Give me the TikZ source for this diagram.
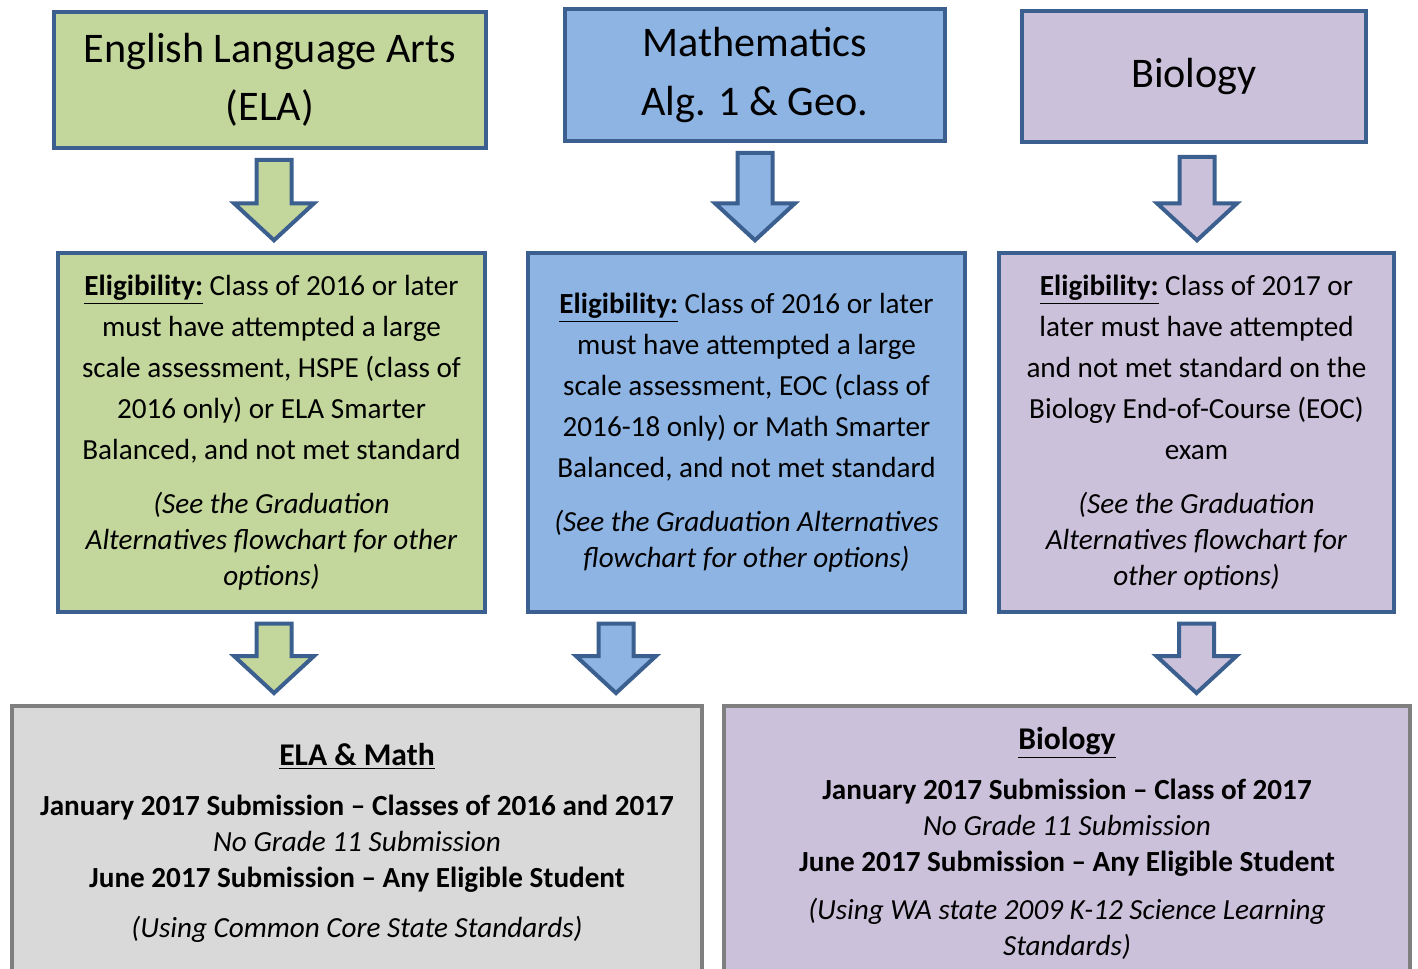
\documentclass[tikz,border=0pt]{standalone}
\usepackage{fontspec}
\setmainfont{Carlito}
\usepackage{xcolor}
\usetikzlibrary{calc}

\definecolor{elagreen}{HTML}{C3D69B}
\definecolor{mathblue}{HTML}{8EB4E3}
\definecolor{biopurple}{HTML}{CCC1DA}
\definecolor{edgeblue}{HTML}{3B5F8F}
\definecolor{subgray}{HTML}{D9D9D9}
\definecolor{edgegray}{HTML}{7F7F7F}

\tikzset{
  subject/.style={draw=edgeblue, line width=0.08cm, inner sep=0pt, align=center,
    font=\fontsize{24}{33}\selectfont},
  elig/.style={draw=edgeblue, line width=0.07cm, inner sep=0pt, align=center,
    font=\fontsize{16.6}{23.3}\selectfont},
  submit/.style={draw=edgegray, line width=0.08cm, inner sep=0pt, align=center,
    font=\fontsize{16.6}{20.5}\selectfont},
  downarrow/.style={draw=edgeblue, line width=0.08cm, line join=miter,
    to path={($(\tikztostart)+(-17.5,10)$)
      -- ($(\tikztostart |- \tikztotarget)+(-17.5,-48)$)
      -- ($(\tikztostart |- \tikztotarget)+(-40,-48)$)
      -- ($(\tikztostart |- \tikztotarget)+(0,-11)$)
      -- ($(\tikztostart |- \tikztotarget)+(40,-48)$)
      -- ($(\tikztostart |- \tikztotarget)+(17.5,-48)$)
      -- ($(\tikztostart)+(17.5,10)$) -- cycle}}
}

\begin{document}
\begin{tikzpicture}[x=0.02cm, y=-0.02cm]

\useasboundingbox (0,0) rectangle (1418,969);
\clip (0,0) rectangle (1418,969);

% subjects
\node[subject, fill=elagreen, minimum width=8.64cm, minimum height=2.72cm] (elaTitle) at (270,80)
  {English Language Arts\\(ELA)};
\node[subject, fill=mathblue, minimum width=7.6cm, minimum height=2.64cm] (mathTitle) at (755,75)
  {Mathematics\\[1pt]Alg. 1 \& Geo.};
\node[subject, fill=biopurple, minimum width=6.88cm, minimum height=2.62cm] (bioTitle) at (1194,76.5)
  {Biology};

% eligibility
\node[elig, fill=elagreen, minimum width=8.54cm, minimum height=7.18cm] (elaElig) at (271.5,432.5)
  {\textbf{\underline{Eligibility:}} Class of 2016 or later\\
   must have attempted a large\\
   scale assessment, HSPE (class of\\
   2016 only) or ELA Smarter\\
   Balanced, and not met standard\\[7.4pt]
   \textit{(See the Graduation}\\[-2.8pt]
   \textit{Alternatives flowchart for other}\\[-2.8pt]
   \textit{options)}};
\node[elig, fill=mathblue, minimum width=8.74cm, minimum height=7.18cm] (mathElig) at (746.5,432.5)
  {\textbf{\underline{Eligibility:}} Class of 2016 or later\\
   must have attempted a large\\
   scale assessment, EOC (class of\\
   2016-18 only) or Math Smarter\\
   Balanced, and not met standard\\[7.4pt]
   \textit{(See the Graduation Alternatives}\\[-2.8pt]
   \textit{flowchart for other options)}};
\node[elig, fill=biopurple, minimum width=7.9cm, minimum height=7.18cm] (bioElig) at (1196.5,432.5)
  {\textbf{\underline{Eligibility:}} Class of 2017 or\\
   later must have attempted\\
   and not met standard on the\\
   Biology End-of-Course (EOC)\\
   exam\\[7.4pt]
   \textit{(See the Graduation}\\[-2.8pt]
   \textit{Alternatives flowchart for}\\[-2.8pt]
   \textit{other options)}};

% submissions
\node[submit, fill=subgray, minimum width=13.8cm, minimum height=5.48cm] (elaMathSub) at (357,843)
  {{\fontsize{18}{20}\selectfont\textbf{\underline{ELA \& Math}}}\\[7.9pt]
   \textbf{January 2017 Submission – Classes of 2016 and 2017}\\
   \textit{No Grade 11 Submission}\\
   \textbf{June 2017 Submission – Any Eligible Student}\\[7.9pt]
   \textit{(Using Common Core State Standards)}};
\node[submit, fill=biopurple, minimum width=13.72cm, minimum height=5.48cm] (bioSub) at (1067,843)
  {{\fontsize{18}{20}\selectfont\textbf{\underline{Biology}}}\\[7.9pt]
   \textbf{January 2017 Submission – Class of 2017}\\
   \textit{No Grade 11 Submission}\\
   \textbf{June 2017 Submission – Any Eligible Student}\\[6.8pt]
   \textit{(Using WA state 2009 K-12 Science Learning}\\
   \textit{Standards)}};

\coordinate (elaIn) at ($(elaTitle.south)+(4,0)$);
\coordinate (bioIn) at ($(bioTitle.south)+(3,3)$);
\coordinate (elaOut) at ($(elaElig.south)+(2.5,0)$);
\coordinate (mathOut) at ($(mathElig.south)+(-130.5,0)$);

\draw[downarrow, fill=elagreen] (elaIn) to (elaElig.north);
\draw[downarrow, fill=mathblue] (mathTitle.south) to (mathElig.north);
\draw[downarrow, fill=biopurple] (bioIn) to (bioElig.north);

\draw[downarrow, fill=elagreen] (elaOut) to (elaMathSub.north);
\draw[downarrow, fill=mathblue] (mathOut) to (elaMathSub.north);
\draw[downarrow, fill=biopurple] (bioElig.south) to (bioSub.north);

\end{tikzpicture}
\end{document}
